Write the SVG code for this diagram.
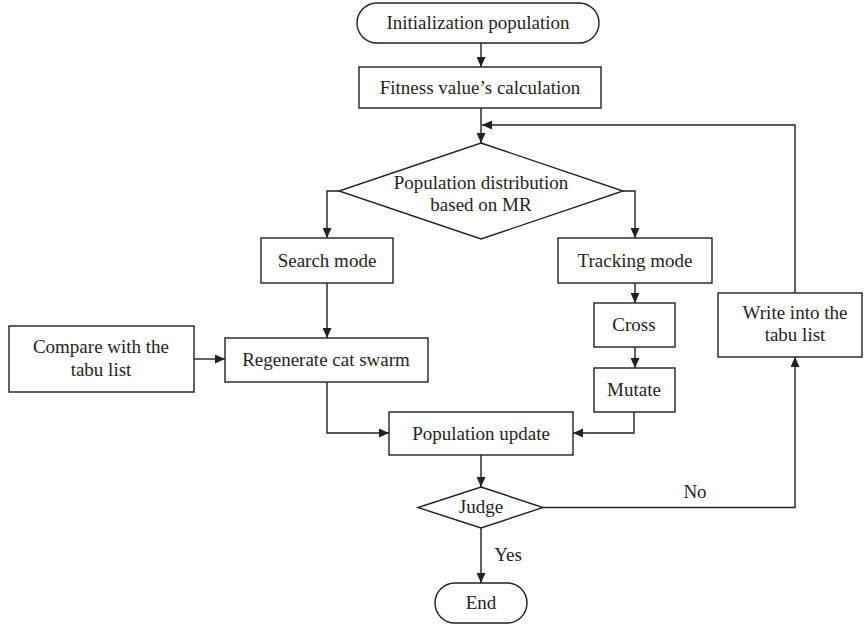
<svg xmlns="http://www.w3.org/2000/svg" width="864" height="627" viewBox="0 0 864 627">
  <style>
    .shape { fill: #ffffff; stroke: #231f20; stroke-width: 1.4; }
    .wire { fill: none; stroke: #231f20; stroke-width: 1.4; marker-end: url(#arrow); }
    .plain { fill: none; stroke: #231f20; stroke-width: 1.4; }
    text { font-family: "Liberation Serif", "Times New Roman", serif; font-size: 19px; fill: #231f20; text-anchor: middle; }
  </style>
  <defs>
    <marker id="arrow" markerUnits="userSpaceOnUse" markerWidth="10" markerHeight="9" refX="10" refY="4.5" orient="auto">
      <path d="M0,0 L10,4.5 L0,9 z" fill="#231f20"/>
    </marker>
  </defs>
  <rect width="864" height="627" fill="#ffffff"/>

  <!-- connectors -->
  <g id="connectors">
    <path class="wire" d="M481,43 V67"/>
    <path class="wire" d="M481,108 V143"/>
    <path class="wire" d="M795,293 V125 H482"/>
    <path class="wire" d="M339,191 H327 V238"/>
    <path class="wire" d="M623,191 H635 V238"/>
    <path class="wire" d="M327,283 V338"/>
    <path class="wire" d="M635,283 V303"/>
    <path class="wire" d="M635,347 V368"/>
    <path class="wire" d="M194,359 H225"/>
    <path class="wire" d="M327,382 V433 H389"/>
    <path class="wire" d="M634,412 V433 H573"/>
    <path class="wire" d="M481,455 V487"/>
    <path class="wire" d="M543,507.5 H795 V357"/>
    <path class="wire" d="M481,528 V583"/>
    <text x="695" y="498">No</text>
    <text x="508" y="561">Yes</text>
  </g>

  <g id="start">
    <rect class="shape" x="357" y="3" width="242" height="40" rx="20" ry="20"/>
    <text x="478" y="29">Initialization population</text>
  </g>

  <g id="fitness">
    <rect class="shape" x="359" y="67" width="242" height="41"/>
    <text x="480" y="94">Fitness value’s calculation</text>
  </g>

  <g id="distribution">
    <polygon class="shape" points="481,143 623,191 481,239 339,191"/>
    <text x="481" y="189">Population distribution</text>
    <text x="481" y="211">based on MR</text>
  </g>

  <g id="search">
    <rect class="shape" x="261" y="238" width="132" height="45"/>
    <text x="327" y="267">Search mode</text>
  </g>

  <g id="tracking">
    <rect class="shape" x="558" y="238" width="154" height="45"/>
    <text x="635" y="267">Tracking mode</text>
  </g>

  <g id="compare">
    <rect class="shape" x="9" y="326" width="185" height="66"/>
    <text x="101" y="353">Compare with the</text>
    <text x="101" y="376">tabu list</text>
  </g>

  <g id="regenerate">
    <rect class="shape" x="225" y="338" width="203" height="44"/>
    <text x="326" y="366">Regenerate cat swarm</text>
  </g>

  <g id="cross">
    <rect class="shape" x="594" y="303" width="81" height="44"/>
    <text x="634" y="331">Cross</text>
  </g>

  <g id="mutate">
    <rect class="shape" x="594" y="368" width="81" height="44"/>
    <text x="634" y="396">Mutate</text>
  </g>

  <g id="write">
    <rect class="shape" x="718" y="293" width="144" height="64"/>
    <text x="795" y="319">Write into the</text>
    <text x="795" y="341">tabu list</text>
  </g>

  <g id="update">
    <rect class="shape" x="389" y="412" width="184" height="43"/>
    <text x="481" y="440">Population update</text>
  </g>

  <g id="judge">
    <polygon class="shape" points="481,487 543,507.5 481,528 418,507.5"/>
    <text x="481" y="513">Judge</text>
  </g>

  <g id="end">
    <rect class="shape" x="435" y="583" width="92" height="40" rx="20" ry="20"/>
    <text x="481" y="609">End</text>
  </g>
</svg>
